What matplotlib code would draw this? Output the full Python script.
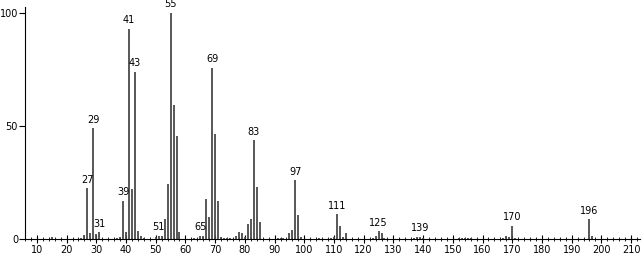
import numpy as np
import matplotlib
matplotlib.use('Agg')
import matplotlib.pyplot as plt
from matplotlib.ticker import MultipleLocator

# m/z and relative abundance
mz = [15, 25, 26, 27, 28, 29, 30, 31, 37, 38, 39, 40, 41, 42, 43, 44, 45, 46,
      50, 51, 52, 53, 54, 55, 56, 57, 58, 63, 65, 66, 67, 68, 69, 70, 71, 72,
      73, 74, 75, 77, 78, 79, 80, 81, 82, 83, 84, 85, 91, 92, 93, 95, 96, 97,
      98, 99, 105, 109, 110, 111, 112, 113, 114, 123, 124, 125, 126, 127,
      137, 138, 139, 140, 152, 153, 154, 155, 156, 167, 168, 169, 170, 171,
      196, 197]
inten = [1.0, 0.6, 1.6, 22.5, 2.5, 49.0, 2.0, 3.0, 0.5, 0.8, 17.0, 3.0, 93.0, 22.0, 74.0, 3.5, 1.2, 0.5,
         0.8, 1.5, 1.2, 8.8, 24.5, 100.0, 59.3, 45.4, 3.2, 0.5, 1.5, 1.5, 17.6, 9.5, 75.6, 46.5, 16.7, 1.0,
         0.5, 0.5, 0.5, 1.5, 3.2, 2.5, 1.0, 6.5, 9.0, 43.6, 23.0, 7.6, 0.5, 0.5, 0.5, 2.5, 4.0, 26.0,
         10.6, 1.0, 0.5, 0.5, 0.8, 11.0, 5.9, 1.0, 2.5, 0.5, 1.5, 3.5, 2.5, 0.6,
         0.5, 0.8, 1.0, 0.6, 0.5, 0.5, 0.5, 0.5, 0.5, 0.6, 1.2, 1.0, 5.9, 0.5,
         8.8, 1.5]

labeled = [27, 29, 31, 39, 41, 43, 51, 55, 65, 69, 83, 97, 111, 125, 139, 170, 196]

fig = plt.figure(figsize=(6.44, 2.56), dpi=100)
ax = fig.add_axes([25/644, 17/256, 615/644, 232/256])

ax.vlines(mz, 0, inten, color='#4a4a4a', linewidth=1.3)

lookup = dict(zip(mz, inten))
for m in labeled:
    ax.text(m, lookup[m] + 1.5, str(m), ha='center', va='bottom', fontsize=7)

ax.set_xlim(6, 213)
ax.set_ylim(0, 102.5)
ax.xaxis.set_major_locator(MultipleLocator(10))
ax.xaxis.set_minor_locator(MultipleLocator(2))
ax.set_yticks([0, 50, 100])
ax.tick_params(axis='x', which='major', direction='inout', length=6, labelsize=7, pad=1)
ax.tick_params(axis='x', which='minor', direction='inout', length=3)
ax.tick_params(axis='y', direction='out', length=4, labelsize=7, pad=1)
ax.spines['top'].set_visible(False)
ax.spines['right'].set_visible(False)
ax.set_xticklabels([str(int(t)) for t in ax.get_xticks()])

fig.savefig('out.png', dpi=100)
